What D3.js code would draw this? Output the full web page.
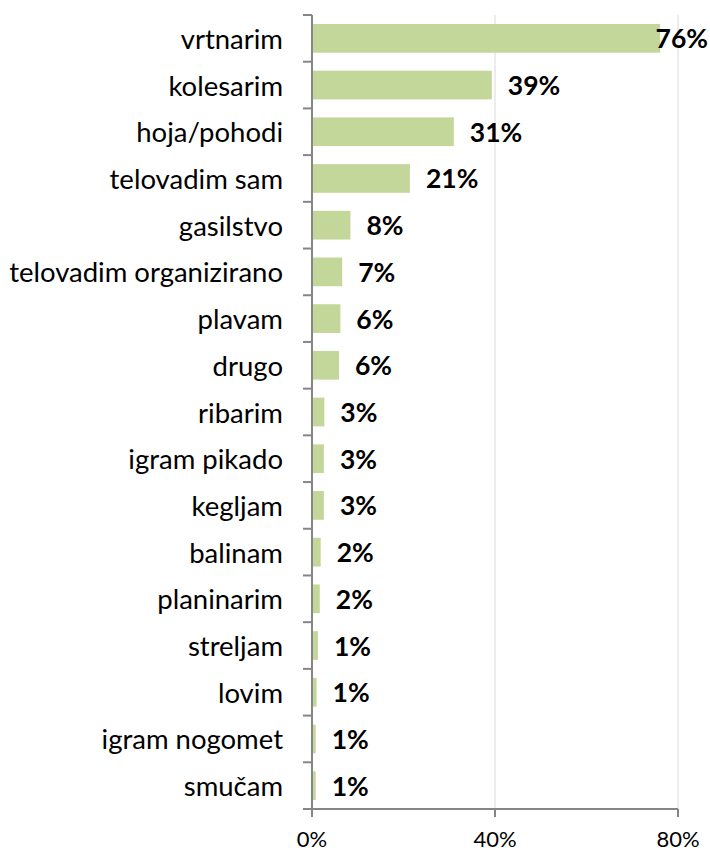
<!DOCTYPE html>
<html><head><meta charset="utf-8">
<script src="https://cdn.jsdelivr.net/npm/d3@7"></script>
<style>body{margin:0;background:#fff}svg{display:block}</style>
</head><body>
<script>
const categories = ["vrtnarim","kolesarim","hoja/pohodi","telovadim sam","gasilstvo","telovadim organizirano","plavam","drugo","ribarim","igram pikado","kegljam","balinam","planinarim","streljam","lovim","igram nogomet","smučam"];
const values = [76.1, 39.3, 31.0, 21.4, 8.4, 6.6, 6.2, 5.9, 2.7, 2.6, 2.6, 1.9, 1.7, 1.3, 1.0, 0.8, 0.8];
const labels = ["76%","39%","31%","21%","8%","7%","6%","6%","3%","3%","3%","2%","2%","1%","1%","1%","1%"];
const xTicks = [0, 40, 80];
const xTickLabels = ["0%","40%","80%"];

const W = 710, H = 852;
const m = {left: 312, top: 15, right: 32, bottom: 43};
const svg = d3.select("body").append("svg").attr("width", W).attr("height", H);
const x = d3.scaleLinear().domain([0, 80]).range([m.left, W - m.right]);
const y = d3.scaleBand().domain(categories).range([m.top, H - m.bottom]).paddingInner(0.385).paddingOuter(0.1925);
const yb = d3.scaleBand().domain(categories).range([m.top, H - m.bottom]);

// gridlines
svg.append("g").selectAll("line").data(xTicks.slice(1)).join("line")
  .attr("x1", d => x(d)).attr("x2", d => x(d))
  .attr("y1", m.top).attr("y2", H - m.bottom)
  .attr("stroke", "#d9d9d9").attr("stroke-width", 1);

// bars
svg.append("g").selectAll("rect").data(values).join("rect")
  .attr("x", x(0)).attr("y", (d, i) => y(categories[i]))
  .attr("width", d => x(d) - x(0)).attr("height", y.bandwidth())
  .attr("fill", "#c4d79b");

// y axis
const yAxis = svg.append("g").attr("transform", `translate(${x(0)},0)`);
yAxis.append("line").attr("x1", 0).attr("x2", 0).attr("y1", m.top).attr("y2", H - m.bottom)
  .attr("stroke", "#868686").attr("stroke-width", 2);
const bounds = categories.map(c => yb(c)).concat([H - m.bottom]);
yAxis.selectAll("line.tk").data(bounds).join("line").attr("class","tk")
  .attr("x1", -9).attr("x2", 0).attr("y1", d => d).attr("y2", d => d)
  .attr("stroke", "#868686").attr("stroke-width", 2);
yAxis.selectAll("text").data(categories).join("text")
  .attr("x", -29).attr("y", c => yb(c) + yb.bandwidth() / 2)
  .attr("text-anchor", "end").attr("dominant-baseline", "central")
  .attr("font-family", "Lato, 'Open Sans', sans-serif").attr("font-size", 27.5)
  .attr("fill", "#000").text(d => d);

// x axis
const xAxis = svg.append("g").attr("transform", `translate(0,${H - m.bottom})`);
xAxis.append("line").attr("x1", x(0)).attr("x2", x(80)).attr("y1", 0).attr("y2", 0)
  .attr("stroke", "#868686").attr("stroke-width", 2);
xAxis.selectAll("line.tk").data(xTicks).join("line").attr("class","tk")
  .attr("x1", d => x(d)).attr("x2", d => x(d)).attr("y1", 0).attr("y2", 8)
  .attr("stroke", "#868686").attr("stroke-width", 2);
xAxis.selectAll("text").data(xTicks).join("text")
  .attr("x", d => x(d)).attr("y", 38)
  .attr("text-anchor", "middle")
  .attr("font-family", "Lato, 'Open Sans', sans-serif").attr("font-size", 22)
  .attr("fill", "#000").text((d, i) => xTickLabels[i]);

// value labels
const vl = svg.append("g").selectAll("text").data(values).join("text")
  .attr("y", (d, i) => yb(categories[i]) + yb.bandwidth() / 2)
  .attr("dominant-baseline", "central")
  .attr("font-family", "Lato, 'Open Sans', sans-serif").attr("font-weight", "bold").attr("font-size", 26.5)
  .attr("fill", "#000").text((d, i) => labels[i]);
vl.each(function(d) {
  const w = this.getComputedTextLength();
  let x0 = x(d) + 16;
  if (x0 + w > W - 2) x0 = W - 2 - w;
  d3.select(this).attr("x", x0);
});
</script>
</body></html>
